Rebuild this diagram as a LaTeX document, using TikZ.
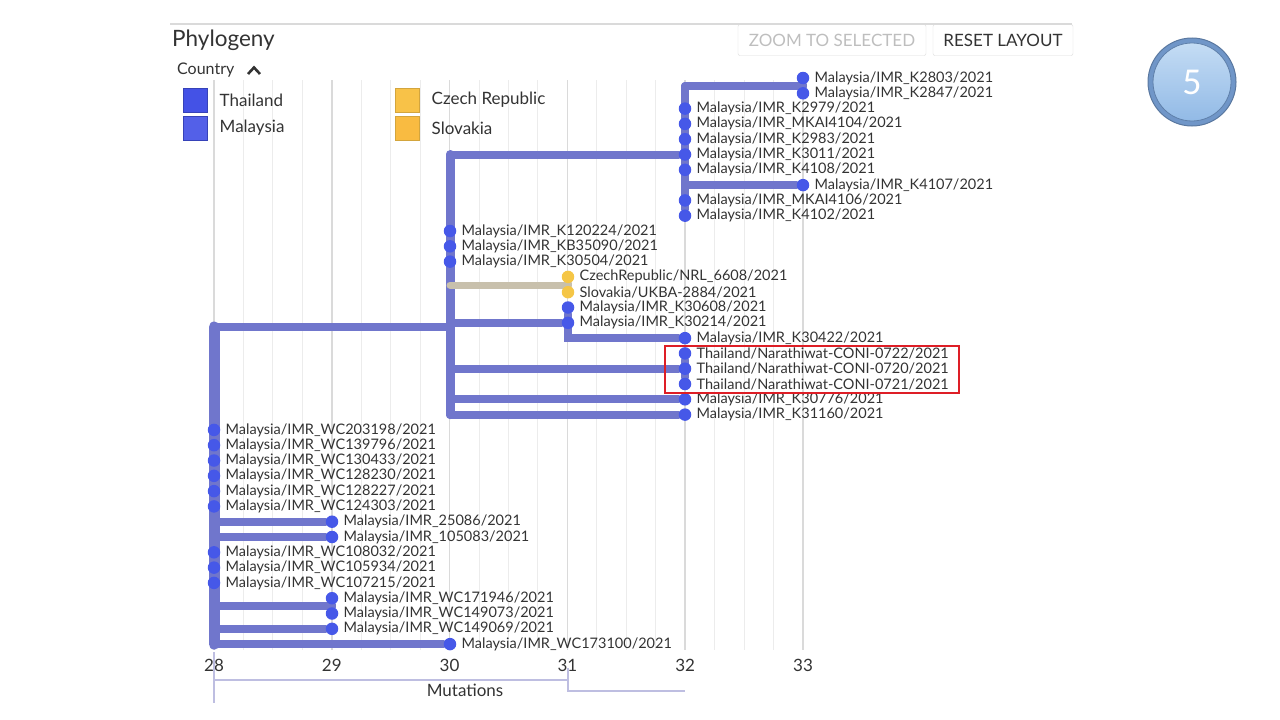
\documentclass[tikz,border=0pt]{standalone}
\usepackage{fontspec}
\setmainfont{Lato}
\newfontfamily\numfont{Carlito}
\usetikzlibrary{positioning,backgrounds}

\definecolor{branchblue}{RGB}{112,118,204}
\definecolor{dotblue}{RGB}{70,88,232}
\definecolor{dotyellow}{RGB}{245,198,70}
\definecolor{branchtan}{RGB}{200,192,172}
\definecolor{gridgray}{RGB}{236,236,236}
\definecolor{gridmajor}{RGB}{218,218,218}
\definecolor{textgray}{RGB}{51,51,51}
\definecolor{btngray}{RGB}{190,190,190}
\definecolor{axislav}{RGB}{190,190,225}
\definecolor{boxred}{RGB}{222,30,38}
\definecolor{legblue}{RGB}{68,82,230}
\definecolor{legyellow}{RGB}{248,194,72}
\definecolor{ringblue}{RGB}{112,150,200}
\definecolor{facetop}{RGB}{196,220,244}
\definecolor{facebot}{RGB}{146,186,230}

\tikzset{
  branch/.style={draw=branchblue, line width=8, line cap=round},
  tipdot/.style={circle, fill=dotblue, inner sep=0, minimum size=12.5},
  tiplab/.style={text=textgray, inner sep=0, font=\fontsize{14.5}{14.5}\selectfont},
  gridline/.style={draw=gridgray, line width=1},
  gridmaj/.style={draw=gridmajor, line width=1.5},
  btn/.style={draw=gridmajor, rounded corners=2, minimum height=31,
    font=\fontsize{17}{17}\selectfont},
  legsq/.style={minimum size=24, inner sep=0, line width=1},
  legtxt/.style={text=textgray, inner sep=0, font=\fontsize{17}{17}\selectfont},
  ticklab/.style={text=textgray, font=\fontsize{17}{17}\selectfont},
  axisline/.style={draw=axislav, line width=1.2}
}

\begin{document}
\begin{tikzpicture}[x=1pt,y=-1pt]
\useasboundingbox (0,0) rectangle (1280,720);

% Header
\draw[draw=gridmajor, line width=1.5] (170,24) -- (1072,24);
\node[anchor=west, inner sep=0, text=textgray, font=\fontsize{22.5}{22.5}\selectfont] (title) at (172,40) {Phylogeny};
\node[btn, text=btngray, minimum width=188] (zoomsel) at (832,40) {ZOOM TO SELECTED};
\node[btn, text=textgray, minimum width=140] (reset) at (1003,40) {RESET LAYOUT};

% Legend
\node[anchor=west, inner sep=0, text=textgray, font=\fontsize{16}{16}\selectfont] (country) at (177,70) {Country};
\draw[line width=2.6, textgray] (248,74) -- (254,67.5) -- (260,74);
\node[legsq, fill=legblue, draw=legblue!80!black] (sqthai) at (195,100) {};
\node[legtxt, right=12pt of sqthai] (lgthai) {Thailand};
\node[legsq, fill=legblue!92!white, draw=legblue!80!black] (sqmal) at (195,128) {};
\node[legtxt, right=12pt of sqmal] (lgmal) {Malaysia};
\node[legsq, fill=legyellow, draw=legyellow!85!black] (sqcz) at (407,100) {};
\node[legtxt, right=12pt of sqcz] (lgcz) {Czech Republic};
\node[legsq, fill=legyellow!90!orange, draw=legyellow!85!black] (sqsk) at (407,128) {};
\node[legtxt, right=12pt of sqsk] (lgsk) {Slovakia};

% Tips at 33 mutations
\foreach \id/\r in {K2803/0,K2847/1,K4107/7}{
  \node[tipdot] (t\id) at (803,{78+15.3*\r}) {};
  \node[tiplab, right=5pt of t\id] (l\id) {Malaysia/IMR\_\id/2021};
}
% Tips at 32 mutations
\foreach \id/\r in {K2979/2,MKAI4104/3,K2983/4,K3011/5,K4108/6,MKAI4106/8,K4102/9,K30422/17,K30776/21,K31160/22}{
  \node[tipdot] (t\id) at (685,{78+15.3*\r}) {};
  \node[tiplab, right=5pt of t\id] (l\id) {Malaysia/IMR\_\id/2021};
}
\foreach \id/\r in {0722/18,0720/19,0721/20}{
  \node[tipdot] (t\id) at (685,{78+15.3*\r}) {};
  \node[tiplab, right=5pt of t\id] (l\id) {Thailand/Narathiwat-CONI-\id/2021};
}
% Tips at 31 mutations
\node[tipdot, fill=dotyellow] (tCZ) at (568,276.9) {};
\node[tiplab, right=5pt of tCZ] (lCZ) {CzechRepublic/NRL\_6608/2021};
\node[tipdot, fill=dotyellow] (tSK) at (568,292.2) {};
\node[tiplab, right=5pt of tSK] (lSK) {Slovakia/UKBA-2884/2021};
\foreach \id/\r in {K30608/15,K30214/16}{
  \node[tipdot] (t\id) at (568,{78+15.3*\r}) {};
  \node[tiplab, right=5pt of t\id] (l\id) {Malaysia/IMR\_\id/2021};
}
% Tips at 30 mutations
\foreach \id/\r in {K120224/10,KB35090/11,K30504/12,WC173100/37}{
  \node[tipdot] (t\id) at (450,{78+15.3*\r}) {};
  \node[tiplab, right=5pt of t\id] (l\id) {Malaysia/IMR\_\id/2021};
}
% Tips at 29 mutations
\foreach \id/\r in {25086/29,105083/30,WC171946/34,WC149073/35,WC149069/36}{
  \node[tipdot] (t\id) at (332,{78+15.3*\r}) {};
  \node[tiplab, right=5pt of t\id] (l\id) {Malaysia/IMR\_\id/2021};
}
% Tips at 28 mutations
\foreach \id/\r in {WC203198/23,WC139796/24,WC130433/25,WC128230/26,WC128227/27,WC124303/28,WC108032/31,WC105934/32,WC107215/33}{
  \node[tipdot] (t\id) at (214,{78+15.3*\r}) {};
  \node[tiplab, right=5pt of t\id] (l\id) {Malaysia/IMR\_\id/2021};
}

% Internal nodes
\coordinate (root) at (214,327);
\coordinate (cA) at (450,327);
\coordinate (cB2) at (803,86);
\coordinate (cCz) at (568,285);
\coordinate (cW) at (332,606);

\begin{scope}[on background layer]
% Grid
\foreach \i in {0,...,20}
  \draw[gridline] ({214+29.45*\i},80) -- ({214+29.45*\i},650);
\foreach \m in {0,...,5}
  \draw[gridmaj] ({214+117.8*\m},80) -- ({214+117.8*\m},650);

% Root and its branches
\draw[branch, line width=11] (root) -- (root |- tWC173100);
\draw[branch] (root) -- (cA);
\draw[branch] (root |- t25086) -- (t25086);
\draw[branch] (root |- t105083) -- (t105083);
\draw[branch] (root |- cW) -- (cW);
\draw[branch] (tWC171946) -- (tWC149073);
\draw[branch] (root |- tWC149069) -- (tWC149069);
\draw[branch] (root |- tWC173100) -- (tWC173100);

% Clade at 30
\draw[branch, line width=9] (cA |- tK3011) -- (cA |- tK31160);
\draw[branch, draw=branchtan, line width=7] (cA |- cCz) -- (cCz);
\draw[branch, draw=branchtan] (tCZ) -- (tSK);
\draw[branch] (cA |- tK30214) -- (tK30214);
\draw[branch] (tK30608) -- (tK30608 |- tK30422) -- (tK30422);
\draw[branch] (cA |- t0720) -- (t0720);
\draw[branch] (t0722) -- (t0721);
\draw[branch] (cA |- tK30776) -- (tK30776);
\draw[branch] (cA |- tK31160) -- (tK31160);

% Clade at 32
\draw[branch] (cA |- tK3011) -- (tK3011);
\draw[branch] (tK2979 |- cB2) -- (tK4102);
\draw[branch] (tK2979 |- cB2) -- (cB2);
\draw[branch] (tK2803) -- (tK2847);
\draw[branch] (tK2979 |- tK4107) -- (tK4107);
\end{scope}

% Highlight
\draw[boxred, line width=2.6] (665,346) rectangle (959,393);

% Axis
\foreach \m in {28,...,33}
  \node[ticklab] (tick\m) at ({214+117.8*(\m-28)},665) {\m};
\draw[axisline] (214,652) -- (214,703);
\draw[axisline] (214,680) -- (568,680);
\draw[axisline] (568,668) -- (568,691) -- (685,691);
\node[ticklab] (mutlab) at (465,690) {Mutations};

% Slide number
\node[circle, minimum size=88, fill=ringblue, draw=ringblue!80!black, line width=1] (slidering) at (1192,82) {};
\node[circle, minimum size=78, top color=facetop, bottom color=facebot, draw=ringblue!85!black,
  line width=0.8, text=white, font=\numfont\fontsize{38}{38}\selectfont] (slidenum) at (1192,82) {5};

\end{tikzpicture}
\end{document}
